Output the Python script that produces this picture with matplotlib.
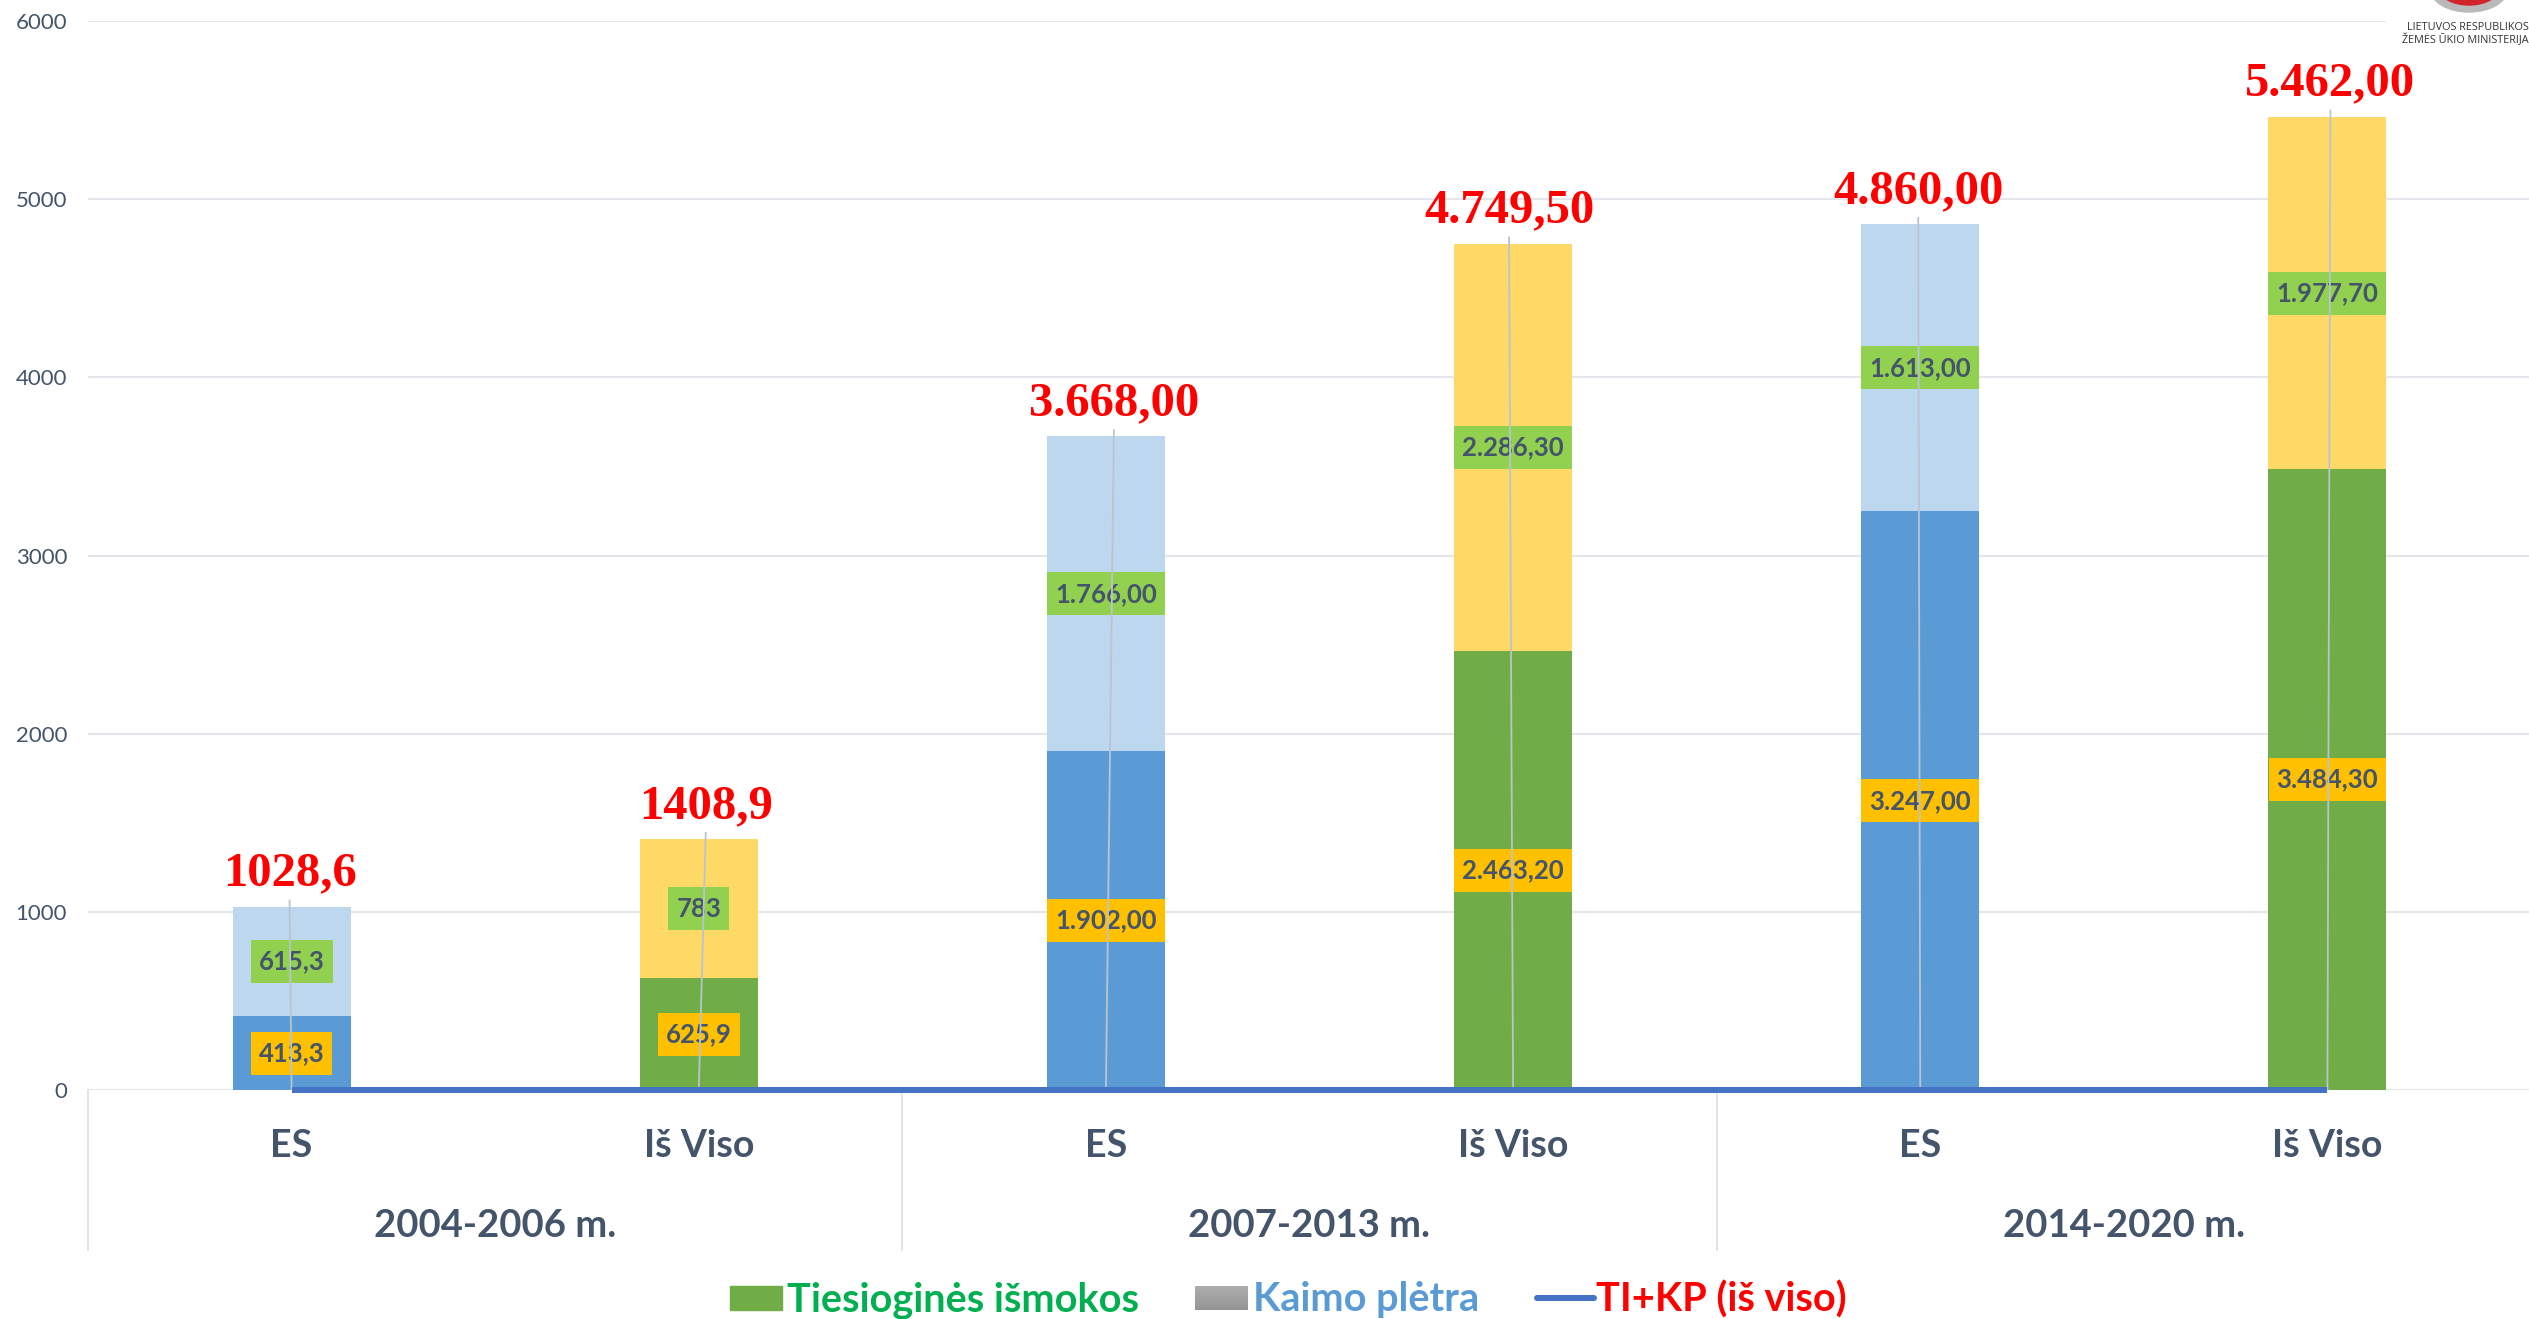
import numpy as np
import matplotlib
matplotlib.use('Agg')
import matplotlib.pyplot as plt
from matplotlib.patches import Rectangle, Ellipse
from matplotlib.transforms import IdentityTransform

# data
categories = ['ES', 'Iš Viso', 'ES', 'Iš Viso', 'ES', 'Iš Viso']
periods = ['2004-2006 m.', '2007-2013 m.', '2014-2020 m.']
tiesiogines = [413.3, 625.9, 1902.0, 2463.2, 3247.0, 3484.3]
kaimo = [615.3, 783.0, 1766.0, 2286.3, 1613.0, 1977.7]
totals = [1028.6, 1408.9, 3668.0, 4749.5, 4860.0, 5462.0]
ti_kp_line = [0, 0, 0, 0, 0, 0]
lower_labels = ['413,3', '625,9', '1.902,00', '2.463,20', '3.247,00', '3.484,30']
upper_labels = ['615,3', '783', '1.766,00', '2.286,30', '1.613,00', '1.977,70']
total_labels = ['1028,6', '1408,9', '3.668,00', '4.749,50', '4.860,00', '5.462,00']
yticks = [0, 1000, 2000, 3000, 4000, 5000, 6000]

# spalvos
lower_colors = ['#5B9BD5', '#70AD47'] * 3
upper_colors = ['#BDD7EE', '#FFD966'] * 3
TEXT_COLOR = '#44546A'
GRID_COLOR = '#E3E7EC'
LEADER_COLOR = '#B9C4D2'

# kiek pasvire vedamosios linijos virsus (pikseliais)
leader_shift = [-2, 7, 8, -4, -2, 3]

W, H = 2529, 1319
SANS = 'Lato'
SERIF = 'Liberation Serif'

fig = plt.figure(figsize=(W / 100, H / 100), dpi=100)
ax = fig.add_axes([88 / W, (H - 1090) / H, (2531 - 88) / W, (1090 - 21) / H])
x = np.arange(len(categories))
ax.set_xlim(-0.5, 5.5)
ax.set_ylim(0, 6000)

ax.bar(x, tiesiogines, width=0.29, color=lower_colors, zorder=2)
ax.bar(x, kaimo, width=0.29, bottom=tiesiogines, color=upper_colors, zorder=2)
ax.plot(x, ti_kp_line, color='#4472C4', lw=4.3, zorder=6, clip_on=False,
        solid_capstyle='butt')

ax.set_yticks(yticks)
ax.tick_params(axis='y', length=0, pad=15, labelsize=16, labelcolor=TEXT_COLOR)
for lab in ax.get_yticklabels():
    lab.set_family(SANS)
ax.set_xticks([])
ax.grid(axis='y', color=GRID_COLOR, lw=1.5, zorder=0)
ax.set_axisbelow(True)
for s in ax.spines.values():
    s.set_visible(False)

# reiksmes ant stulpeliu
fig.canvas.draw()
renderer = fig.canvas.get_renderer()


def boxed_label(xpos, ypos, label, color):
    t = ax.text(xpos, ypos, label, ha='center', va='center', fontsize=18.5,
                fontweight='bold', family=SANS, color=TEXT_COLOR, zorder=4)
    bb = t.get_window_extent(renderer)
    cx, cy = ax.transData.transform((xpos, ypos))
    bw = bb.width + 16
    rect = Rectangle((cx - bw / 2, cy - 21.5), bw, 43, facecolor=color,
                     edgecolor='none', transform=IdentityTransform(), zorder=3)
    ax.add_patch(rect)


for i in x:
    boxed_label(i, tiesiogines[i] / 2, lower_labels[i], '#FFC000')
    boxed_label(i, tiesiogines[i] + kaimo[i] / 2, upper_labels[i], '#92D050')
    top_x = i + leader_shift[i] / (2443 / 6)
    ax.plot([i, top_x], [0, totals[i] + 35], color=LEADER_COLOR, lw=1.3, zorder=5)
    ax.annotate(total_labels[i], (top_x, totals[i]), xytext=(0, 8),
                textcoords='offset points', ha='center', va='bottom', fontsize=35,
                fontweight='bold', family=SERIF, color='#FF0000',
                annotation_clip=False, zorder=7)

# kategoriju asis po grafiku
trans = ax.get_xaxis_transform()


def axis_y(py):
    return (1090 - py) / (1090 - 21)


for i in x:
    ax.text(i, axis_y(1146), categories[i], transform=trans, ha='center', va='center',
            fontsize=27, fontweight='bold', family=SANS, color=TEXT_COLOR)
for j, period in enumerate(periods):
    ax.text(2 * j + 0.5, axis_y(1226), period, transform=trans, ha='center', va='center',
            fontsize=27.5, fontweight='bold', family=SANS, color=TEXT_COLOR)
for j in range(4):
    ax.plot([2 * j - 0.5] * 2, [axis_y(1090), axis_y(1250)], transform=trans,
            color='#DDE1E8', lw=1.3, clip_on=False)


# legenda (pikseliai)
def fig_x(px):
    return px / W


def fig_y(py):
    return 1 - py / H


fig.add_artist(Rectangle((fig_x(730), fig_y(1310)), 52 / W, 24 / H, color='#70AD47',
                         transform=fig.transFigure))
grad_ax = fig.add_axes([fig_x(1195), fig_y(1310), 53 / W, 24 / H])
grad_ax.imshow(np.linspace(0.68, 0.58, 24).reshape(-1, 1), cmap='gray', vmin=0, vmax=1,
               aspect='auto')
grad_ax.axis('off')
fig.add_artist(plt.Line2D([fig_x(1537), fig_x(1594)], [fig_y(1298)] * 2, color='#4472C4',
                          lw=4.3, solid_capstyle='round'))
legend_items = [('Tiesioginės išmokos', 787, '#00B050'),
                ('Kaimo plėtra', 1253, '#5B9BD5'),
                ('TI+KP (iš viso)', 1596, '#FF0000')]
for txt, px, col in legend_items:
    fig.text(fig_x(px), fig_y(1300), txt, ha='left', va='center', fontsize=28.5,
             fontweight='bold', family=SANS, color=col)

# logotipas virsuje desineje
fig.add_artist(Rectangle((fig_x(2386), fig_y(50)), 143 / W, 50 / H, color='white',
                         transform=fig.transFigure, zorder=8))
fig.add_artist(Ellipse((fig_x(2469), fig_y(-10)), 76 / W, 44 / H, color='#B9B9B9',
                       transform=fig.transFigure, zorder=9))
fig.add_artist(Ellipse((fig_x(2469), fig_y(-12)), 60 / W, 34 / H, color='#D2232A',
                       transform=fig.transFigure, zorder=10))
fig.text(fig_x(2407), fig_y(28), 'LIETUVOS RESPUBLIKOS', ha='left', va='center', fontsize=7.8,
         family='Open Sans', color='#333333', zorder=10)
fig.text(fig_x(2402), fig_y(40), 'ŽEMĖS ŪKIO MINISTERIJA', ha='left', va='center', fontsize=7.8,
         family='Open Sans', color='#333333', zorder=10)

fig.savefig('out.png', dpi=100)
